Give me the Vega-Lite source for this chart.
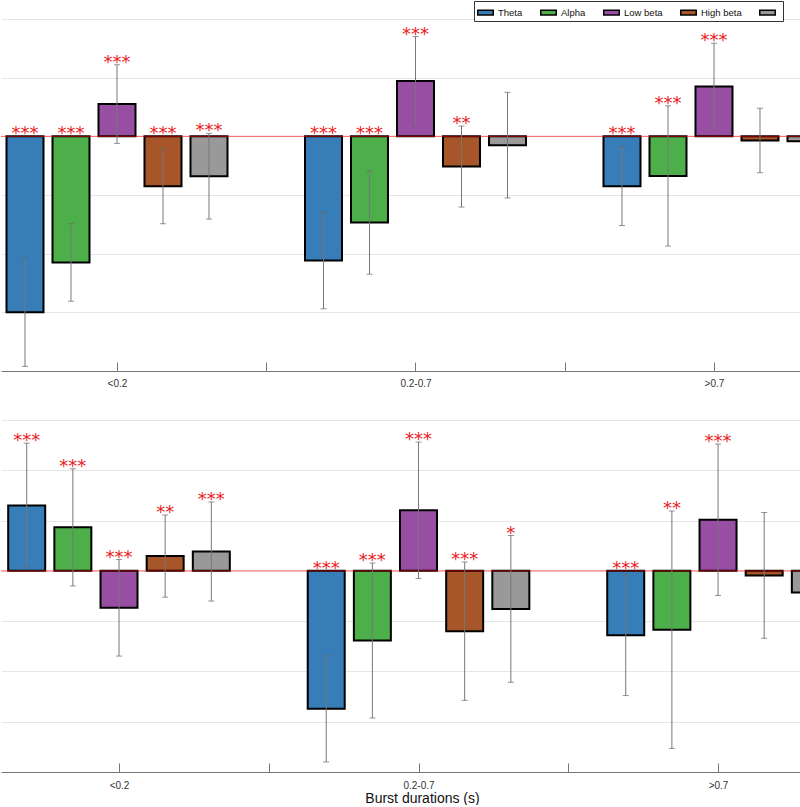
{
  "$schema": "https://vega.github.io/schema/vega-lite/v6.json",
  "padding": {"left": 0, "top": 0, "right": 0, "bottom": 0},
  "background": "white",
  "config": {
    "view": {"stroke": null},
    "font": "Liberation Sans",
    "axis": {"minExtent": 0},
    "scale": {"continuousPadding": 0},
    "legend": {
      "orient": "none", "legendX": 473, "legendY": -18, "direction": "horizontal", "columns": 5,
      "title": null, "labelFont": "Liberation Sans", "labelFontSize": 9.5, "labelColor": "#111",
      "labelOffset": 4, "columnPadding": 14, "padding": 3, "strokeColor": "#333", "fillColor": "white",
      "symbolType": "M-1,-0.3H1V0.3H-1Z", "symbolSize": 240, "symbolStrokeColor": "black",
      "symbolStrokeWidth": 1.5, "symbolOpacity": 1, "cornerRadius": 0
    }
  },
  "data": {"values": [
    {"panel": "top", "dur": "<0.2", "band": "Theta", "mean": -3.0, "err": 0.92, "sig": "***"},
    {"panel": "top", "dur": "<0.2", "band": "Alpha", "mean": -2.15, "err": 0.66, "sig": "***"},
    {"panel": "top", "dur": "<0.2", "band": "Low beta", "mean": 0.55, "err": 0.67, "sig": "***"},
    {"panel": "top", "dur": "<0.2", "band": "High beta", "mean": -0.85, "err": 0.64, "sig": "***"},
    {"panel": "top", "dur": "<0.2", "band": "Gamma", "mean": -0.68, "err": 0.73, "sig": "***"},
    {"panel": "top", "dur": "0.2-0.7", "band": "Theta", "mean": -2.115, "err": 0.825, "sig": "***"},
    {"panel": "top", "dur": "0.2-0.7", "band": "Alpha", "mean": -1.47, "err": 0.88, "sig": "***"},
    {"panel": "top", "dur": "0.2-0.7", "band": "Low beta", "mean": 0.945, "err": 0.755, "sig": "***"},
    {"panel": "top", "dur": "0.2-0.7", "band": "High beta", "mean": -0.515, "err": 0.69, "sig": "**"},
    {"panel": "top", "dur": "0.2-0.7", "band": "Gamma", "mean": -0.15, "err": 0.9, "sig": ""},
    {"panel": "top", "dur": ">0.7", "band": "Theta", "mean": -0.85, "err": 0.67, "sig": "***"},
    {"panel": "top", "dur": ">0.7", "band": "Alpha", "mean": -0.675, "err": 1.195, "sig": "***"},
    {"panel": "top", "dur": ">0.7", "band": "Low beta", "mean": 0.85, "err": 0.737, "sig": "***"},
    {"panel": "top", "dur": ">0.7", "band": "High beta", "mean": -0.07, "err": 0.55, "sig": ""},
    {"panel": "top", "dur": ">0.7", "band": "Gamma", "mean": -0.085, "err": 0.5, "sig": ""},
    {"panel": "bottom", "dur": "<0.2", "band": "Theta", "mean": 1.3, "err": 1.24, "sig": "***"},
    {"panel": "bottom", "dur": "<0.2", "band": "Alpha", "mean": 0.865, "err": 1.165, "sig": "***"},
    {"panel": "bottom", "dur": "<0.2", "band": "Low beta", "mean": -0.735, "err": 0.96, "sig": "***"},
    {"panel": "bottom", "dur": "<0.2", "band": "High beta", "mean": 0.293, "err": 0.817, "sig": "**"},
    {"panel": "bottom", "dur": "<0.2", "band": "Gamma", "mean": 0.385, "err": 0.985, "sig": "***"},
    {"panel": "bottom", "dur": "0.2-0.7", "band": "Theta", "mean": -2.743, "err": 1.057, "sig": "***"},
    {"panel": "bottom", "dur": "0.2-0.7", "band": "Alpha", "mean": -1.385, "err": 1.54, "sig": "***"},
    {"panel": "bottom", "dur": "0.2-0.7", "band": "Low beta", "mean": 1.205, "err": 1.356, "sig": "***"},
    {"panel": "bottom", "dur": "0.2-0.7", "band": "High beta", "mean": -1.2, "err": 1.375, "sig": "***"},
    {"panel": "bottom", "dur": "0.2-0.7", "band": "Gamma", "mean": -0.757, "err": 1.46, "sig": "*"},
    {"panel": "bottom", "dur": ">0.7", "band": "Theta", "mean": -1.28, "err": 1.2, "sig": "***"},
    {"panel": "bottom", "dur": ">0.7", "band": "Alpha", "mean": -1.17, "err": 2.36, "sig": "**"},
    {"panel": "bottom", "dur": ">0.7", "band": "Low beta", "mean": 1.016, "err": 1.505, "sig": "***"},
    {"panel": "bottom", "dur": ">0.7", "band": "High beta", "mean": -0.09, "err": 1.25, "sig": ""},
    {"panel": "bottom", "dur": ">0.7", "band": "Gamma", "mean": -0.43, "err": 1.2, "sig": ""}
  ]},
  "transform": [
    {"calculate": "indexof(['<0.2','0.2-0.7','>0.7'], datum.dur)", "as": "gi"},
    {"calculate": "indexof(['Theta','Alpha','Low beta','High beta','Gamma'], datum.band)", "as": "bi"},
    {"calculate": "datum.gi + (datum.bi - 2) * 0.1541", "as": "xpos"},
    {"calculate": "datum.mean - datum.err", "as": "lo"},
    {"calculate": "datum.mean + datum.err", "as": "hi"},
    {"calculate": "max(0, datum.mean + datum.err)", "as": "staty"}
  ],
  "vconcat": [
    {
      "width": 800, "height": 352,
      "transform": [{"filter": "datum.panel === 'top'"}],
      "layer": [
        {"mark": {"type": "bar", "stroke": "black", "strokeWidth": 2, "size": 37, "clip": true},
         "encoding": {
           "x": {"field": "xpos", "type": "quantitative",
                 "scale": {"domain": [-0.3886, 2.2915], "nice": false, "zero": false, "padding": 0},
                 "axis": {"values": [0, 0.5, 1, 1.5, 2], "labelExpr": "datum.value == 0 ? '<0.2' : datum.value == 1 ? '0.2-0.7' : datum.value == 2 ? '>0.7' : ''",
                          "title": null, "grid": false, "tickSize": -9, "labelPadding": 16, "domainColor": "#777", "tickColor": "#777",
                          "labelColor": "#333", "labelFontSize": 10, "labelFont": "Liberation Sans"}},
           "y": {"field": "mean", "type": "quantitative",
                 "scale": {"domain": [-4, 2], "nice": false, "zero": false, "padding": 0},
                 "axis": {"values": [-4, -3, -2, -1, 0, 1, 2], "labels": false, "ticks": false, "domain": false, "grid": true, "gridColor": "#e6e6e6", "title": null}},
           "y2": {"datum": 0},
           "color": {"field": "band", "type": "nominal",
                     "scale": {"domain": ["Theta", "Alpha", "Low beta", "High beta", "Gamma"], "range": ["#377eb8", "#4daf4a", "#984ea3", "#a65628", "#999999"]},
                     "legend": {"labelExpr": "datum.label == 'Gamma' ? '' : datum.label"}}
         }},
        {"data": {"values": [{"ref": 0}]},
         "mark": {"type": "rule", "color": "#ff0000", "strokeWidth": 0.6},
         "encoding": {"y": {"field": "ref", "type": "quantitative"}}},
        {"mark": {"type": "rule", "color": "#777", "strokeWidth": 1, "clip": true},
         "encoding": {"x": {"field": "xpos", "type": "quantitative"}, "y": {"field": "lo", "type": "quantitative"}, "y2": {"field": "hi"}}},
        {"mark": {"type": "tick", "orient": "horizontal", "size": 6, "thickness": 1, "color": "#666", "clip": true},
         "encoding": {"x": {"field": "xpos", "type": "quantitative"}, "y": {"field": "lo", "type": "quantitative"}}},
        {"mark": {"type": "tick", "orient": "horizontal", "size": 6, "thickness": 1, "color": "#666", "clip": true},
         "encoding": {"x": {"field": "xpos", "type": "quantitative"}, "y": {"field": "hi", "type": "quantitative"}}},
        {"mark": {"type": "text", "color": "#e8221e", "fontSize": 18, "font": "DejaVu Sans", "baseline": "alphabetic", "dy": 3, "clip": true},
         "encoding": {"x": {"field": "xpos", "type": "quantitative"}, "y": {"field": "staty", "type": "quantitative"}, "text": {"field": "sig"}}}
      ]
    },
    {
      "width": 800, "height": 352,
      "transform": [{"filter": "datum.panel === 'bottom'"}],
      "layer": [
        {"mark": {"type": "bar", "stroke": "black", "strokeWidth": 2, "size": 37, "clip": true},
         "encoding": {
           "x": {"field": "xpos", "type": "quantitative",
                 "scale": {"domain": [-0.394, 2.277], "nice": false, "zero": false, "padding": 0},
                 "axis": {"values": [0, 0.5, 1, 1.5, 2], "labelExpr": "datum.value == 0 ? '<0.2' : datum.value == 1 ? '0.2-0.7' : datum.value == 2 ? '>0.7' : ''",
                          "title": "Burst durations (s)", "titleFontSize": 14, "titleFontWeight": "normal", "titleColor": "#111", "titleFont": "Liberation Sans", "titlePadding": 1, "titleX": 421, "titleAlign": "center",
                          "grid": false, "tickSize": -9, "labelPadding": 17, "domainColor": "#777", "tickColor": "#777",
                          "labelColor": "#333", "labelFontSize": 10, "labelFont": "Liberation Sans"}},
           "y": {"field": "mean", "type": "quantitative",
                 "scale": {"domain": [-4, 3], "nice": false, "zero": false, "padding": 0},
                 "axis": {"values": [-4, -3, -2, -1, 0, 1, 2, 3], "labels": false, "ticks": false, "domain": false, "grid": true, "gridColor": "#e6e6e6", "title": null}},
           "y2": {"datum": 0},
           "color": {"field": "band", "type": "nominal",
                     "scale": {"domain": ["Theta", "Alpha", "Low beta", "High beta", "Gamma"], "range": ["#377eb8", "#4daf4a", "#984ea3", "#a65628", "#999999"]},
                     "legend": {"labelExpr": "datum.label == 'Gamma' ? '' : datum.label"}}
         }},
        {"data": {"values": [{"ref": 0}]},
         "mark": {"type": "rule", "color": "#ff0000", "strokeWidth": 0.6},
         "encoding": {"y": {"field": "ref", "type": "quantitative"}}},
        {"mark": {"type": "rule", "color": "#777", "strokeWidth": 1, "clip": true},
         "encoding": {"x": {"field": "xpos", "type": "quantitative"}, "y": {"field": "lo", "type": "quantitative"}, "y2": {"field": "hi"}}},
        {"mark": {"type": "tick", "orient": "horizontal", "size": 6, "thickness": 1, "color": "#666", "clip": true},
         "encoding": {"x": {"field": "xpos", "type": "quantitative"}, "y": {"field": "lo", "type": "quantitative"}}},
        {"mark": {"type": "tick", "orient": "horizontal", "size": 6, "thickness": 1, "color": "#666", "clip": true},
         "encoding": {"x": {"field": "xpos", "type": "quantitative"}, "y": {"field": "hi", "type": "quantitative"}}},
        {"mark": {"type": "text", "color": "#e8221e", "fontSize": 18, "font": "DejaVu Sans", "baseline": "alphabetic", "dy": 3, "clip": true},
         "encoding": {"x": {"field": "xpos", "type": "quantitative"}, "y": {"field": "staty", "type": "quantitative"}, "text": {"field": "sig"}}}
      ]
    }
  ],
  "spacing": 32,
  "resolve": {"scale": {"x": "independent", "y": "independent"}}
}
